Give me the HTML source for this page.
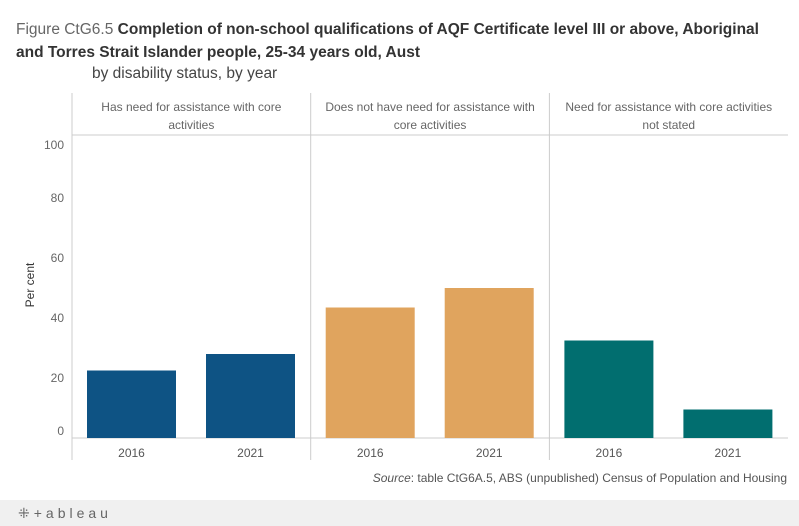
<!DOCTYPE html>
<html><head><meta charset="utf-8"><style>
body{margin:0;width:799px;height:526px;background:#fff;font-family:"Liberation Sans",sans-serif;overflow:hidden;position:relative}
.t{position:absolute;left:16px;top:18px;font-size:15.5px;color:#333;line-height:23px;width:760px}
.t b{font-weight:bold;color:#333}
.sub{position:absolute;left:92px;top:65px;font-size:15.5px;color:#444}
.src{position:absolute;right:12px;top:471px;font-size:12px;color:#555}
.foot{position:absolute;left:0;top:500px;width:799px;height:26px;background:#f0f0f0}
.logo{position:absolute;left:18px;top:5px;font-size:14px;color:#666;letter-spacing:4px}
</style></head><body>
<div class="t"><span style="color:#666">Figure CtG6.5</span> <b>Completion of non-school qualifications of AQF Certificate level III or above, Aboriginal and Torres Strait Islander people, 25-34 years old, Aust</b></div>
<div class="sub">by disability status, by year</div>
<svg id="c" width="799" height="500" style="position:absolute;left:0;top:0"></svg>
<div class="src"><i>Source</i>: table CtG6A.5, ABS (unpublished) Census of Population and Housing</div>
<div class="foot"><span class="logo">⁜+ableau</span></div>
<script>
const panels=["Has need for assistance with core|activities","Does not have need for assistance with|core activities","Need for assistance with core activities|not stated"];
const years=["2016","2021"];
const values=[[22.5,28],[43.5,50],[32.5,9.5]];
const colors=["#0e5384","#e0a45e","#016e6f"];
const yTicks=[0,20,40,60,80,100];
const svg=document.getElementById('c');const NS="http://www.w3.org/2000/svg";
function mk(t,a,txt){const e=document.createElementNS(NS,t);for(const k in a)e.setAttribute(k,a[k]);if(txt!=null)e.textContent=txt;svg.appendChild(e);return e;}
const x0=72,pw=238.7,plotTop=132,bot=438;
const y=v=>bot-v*3;
let l=mk('line',{x1:x0,y1:93,x2:x0,y2:460,stroke:'#ccc'});


l=mk('line',{x1:x0,y1:plotTop+3,x2:788,y2:plotTop+3,stroke:'#ccc'});


l=mk('line',{x1:x0,y1:bot,x2:788,y2:bot,stroke:'#ccc'});


yTicks.forEach(t=>{let ty=y(t)+4;if(t===0)ty=y(t)-3;if(t===100)ty=y(t)+11;
const e=mk('text',{x:64,y:ty,'text-anchor':'end','font-size':12,fill:'#666'},t);

});
const yt=mk('text',{x:34,y:285,'text-anchor':'middle','font-size':12,fill:'#333',transform:'rotate(-90 34 285)'},'Per cent');


panels.forEach((p,i)=>{const px=x0+i*pw;
if(i>0){const d=mk('line',{x1:px,y1:93,x2:px,y2:460,stroke:'#ccc'});

}
p.split('|').forEach((s,j)=>{const h=mk('text',{x:px+pw/2,y:111+j*18,'text-anchor':'middle','font-size':12,fill:'#666'},s);

});
years.forEach((yr,k)=>{const bx=px+15+k*119,v=values[i][k];
const r=mk('rect',{x:bx,y:y(v),width:89,height:bot-y(v),fill:colors[i]});


const tl=mk('text',{x:bx+44.5,y:457,'text-anchor':'middle','font-size':12,fill:'#555'},yr);

});});
</script>
</body></html>
